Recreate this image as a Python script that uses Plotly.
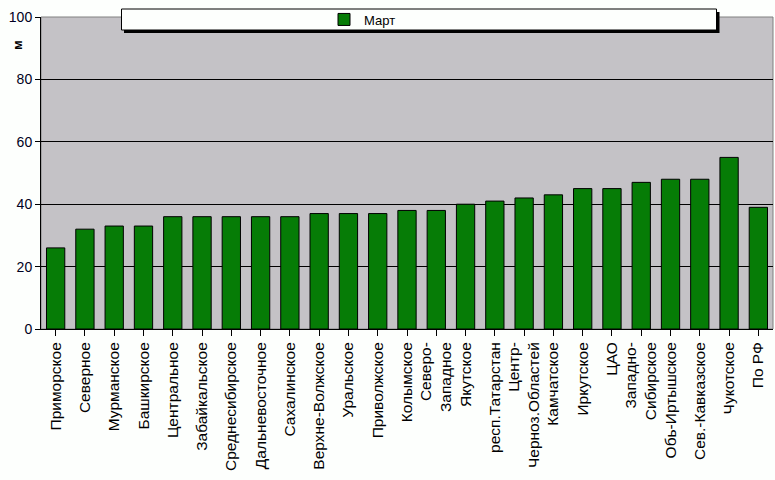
import plotly.graph_objects as go

categories = [
    "Приморское", "Северное", "Мурманское", "Башкирское", "Центральное",
    "Забайкальское", "Среднесибирское", "Дальневосточное", "Сахалинское",
    "Верхне-Волжское", "Уральское", "Приволжское", "Колымское",
    "Северо-<br>Западное", "Якутское", "респ.Татарстан",
    "Центр-<br>Черноз.Областей", "Камчатское", "Иркутское", "ЦАО",
    "Западно-<br>Сибирское", "Обь-Иртышское", "Сев.-Кавказское",
    "Чукотское", "По РФ",
]
march = [26, 32, 33, 33, 36, 36, 36, 36, 36, 37, 37, 37, 38, 38, 40, 41,
         42, 43, 45, 45, 47, 48, 48, 55, 39]
y_ticks = [0, 20, 40, 60, 80, 100]

W, H = 775, 480
L, R, T, B = 41, 2, 17, 151
PW, PH = W - L - R, H - T - B


def px_x(p):
    return (p - L) / PW


def px_y(p):
    return (H - B - p) / PH


FONT = "Liberation Sans, Arial, sans-serif"

fig = go.Figure()
fig.add_trace(go.Bar(
    x=list(range(len(categories))), y=march, name="Март",
    marker=dict(color="#067C06", line=dict(color="#000000", width=1)),
))

shapes = [
    # plot area border (gray top/right)
    dict(type="rect", xref="paper", yref="paper", x0=0, x1=1, y0=0, y1=1,
         line=dict(color="#808080", width=1), layer="below"),
    # legend shadow
    dict(type="rect", xref="paper", yref="paper",
         x0=px_x(124), x1=px_x(719.5), y0=px_y(33), y1=px_y(12),
         fillcolor="#000000", line=dict(width=0), layer="above"),
    # legend box
    dict(type="rect", xref="paper", yref="paper",
         x0=px_x(121.5), x1=px_x(716.5), y0=px_y(30), y1=px_y(9),
         fillcolor="#FDFFFD", line=dict(color="#000000", width=1), layer="above"),
]

fig.update_layout(
    width=W, height=H,
    margin=dict(l=L, r=R, t=T, b=B, pad=0, autoexpand=False),
    paper_bgcolor="#FDFFFD",
    plot_bgcolor="#C4C2C6",
    font=dict(family=FONT, size=13, color="#000000"),
    bargap=0.375,
    showlegend=True,
    legend=dict(
        x=px_x(324), y=px_y(19.5), xanchor="left", yanchor="middle",
        bgcolor="rgba(0,0,0,0)", borderwidth=0,
        font=dict(family=FONT, size=13, color="#000000"),
        orientation="h",
    ),
    shapes=shapes,
    annotations=[dict(
        text="<b>м</b>", xref="paper", yref="paper",
        x=px_x(17), y=px_y(45), showarrow=False, textangle=-90,
        font=dict(family=FONT, size=13, color="#000000"),
        xanchor="center", yanchor="middle",
    )],
    xaxis=dict(
        tickmode="array", tickvals=list(range(len(categories))), ticktext=categories,
        tickangle=-90, ticks="outside", ticklen=6, tickcolor="#000000",
        tickson="boundaries", showline=True, linecolor="#000000", linewidth=1,
        showgrid=False, range=[-0.5, len(categories) - 0.5],
        tickfont=dict(family=FONT, size=15.5, color="#000000"),
    ),
    yaxis=dict(
        range=[0, 100], tickvals=y_ticks, ticks="outside", ticklen=5,
        tickcolor="#000000", showline=True, linecolor="#000000", linewidth=1,
        showgrid=True, gridcolor="#000000", gridwidth=1, zeroline=False,
        tickfont=dict(family=FONT, size=14, color="#000022"),
    ),
)

fig.write_html(
    "out.html",
    config={"displayModeBar": False},
    post_script="document.body.style.margin='0';document.body.style.overflow='hidden';",
)
